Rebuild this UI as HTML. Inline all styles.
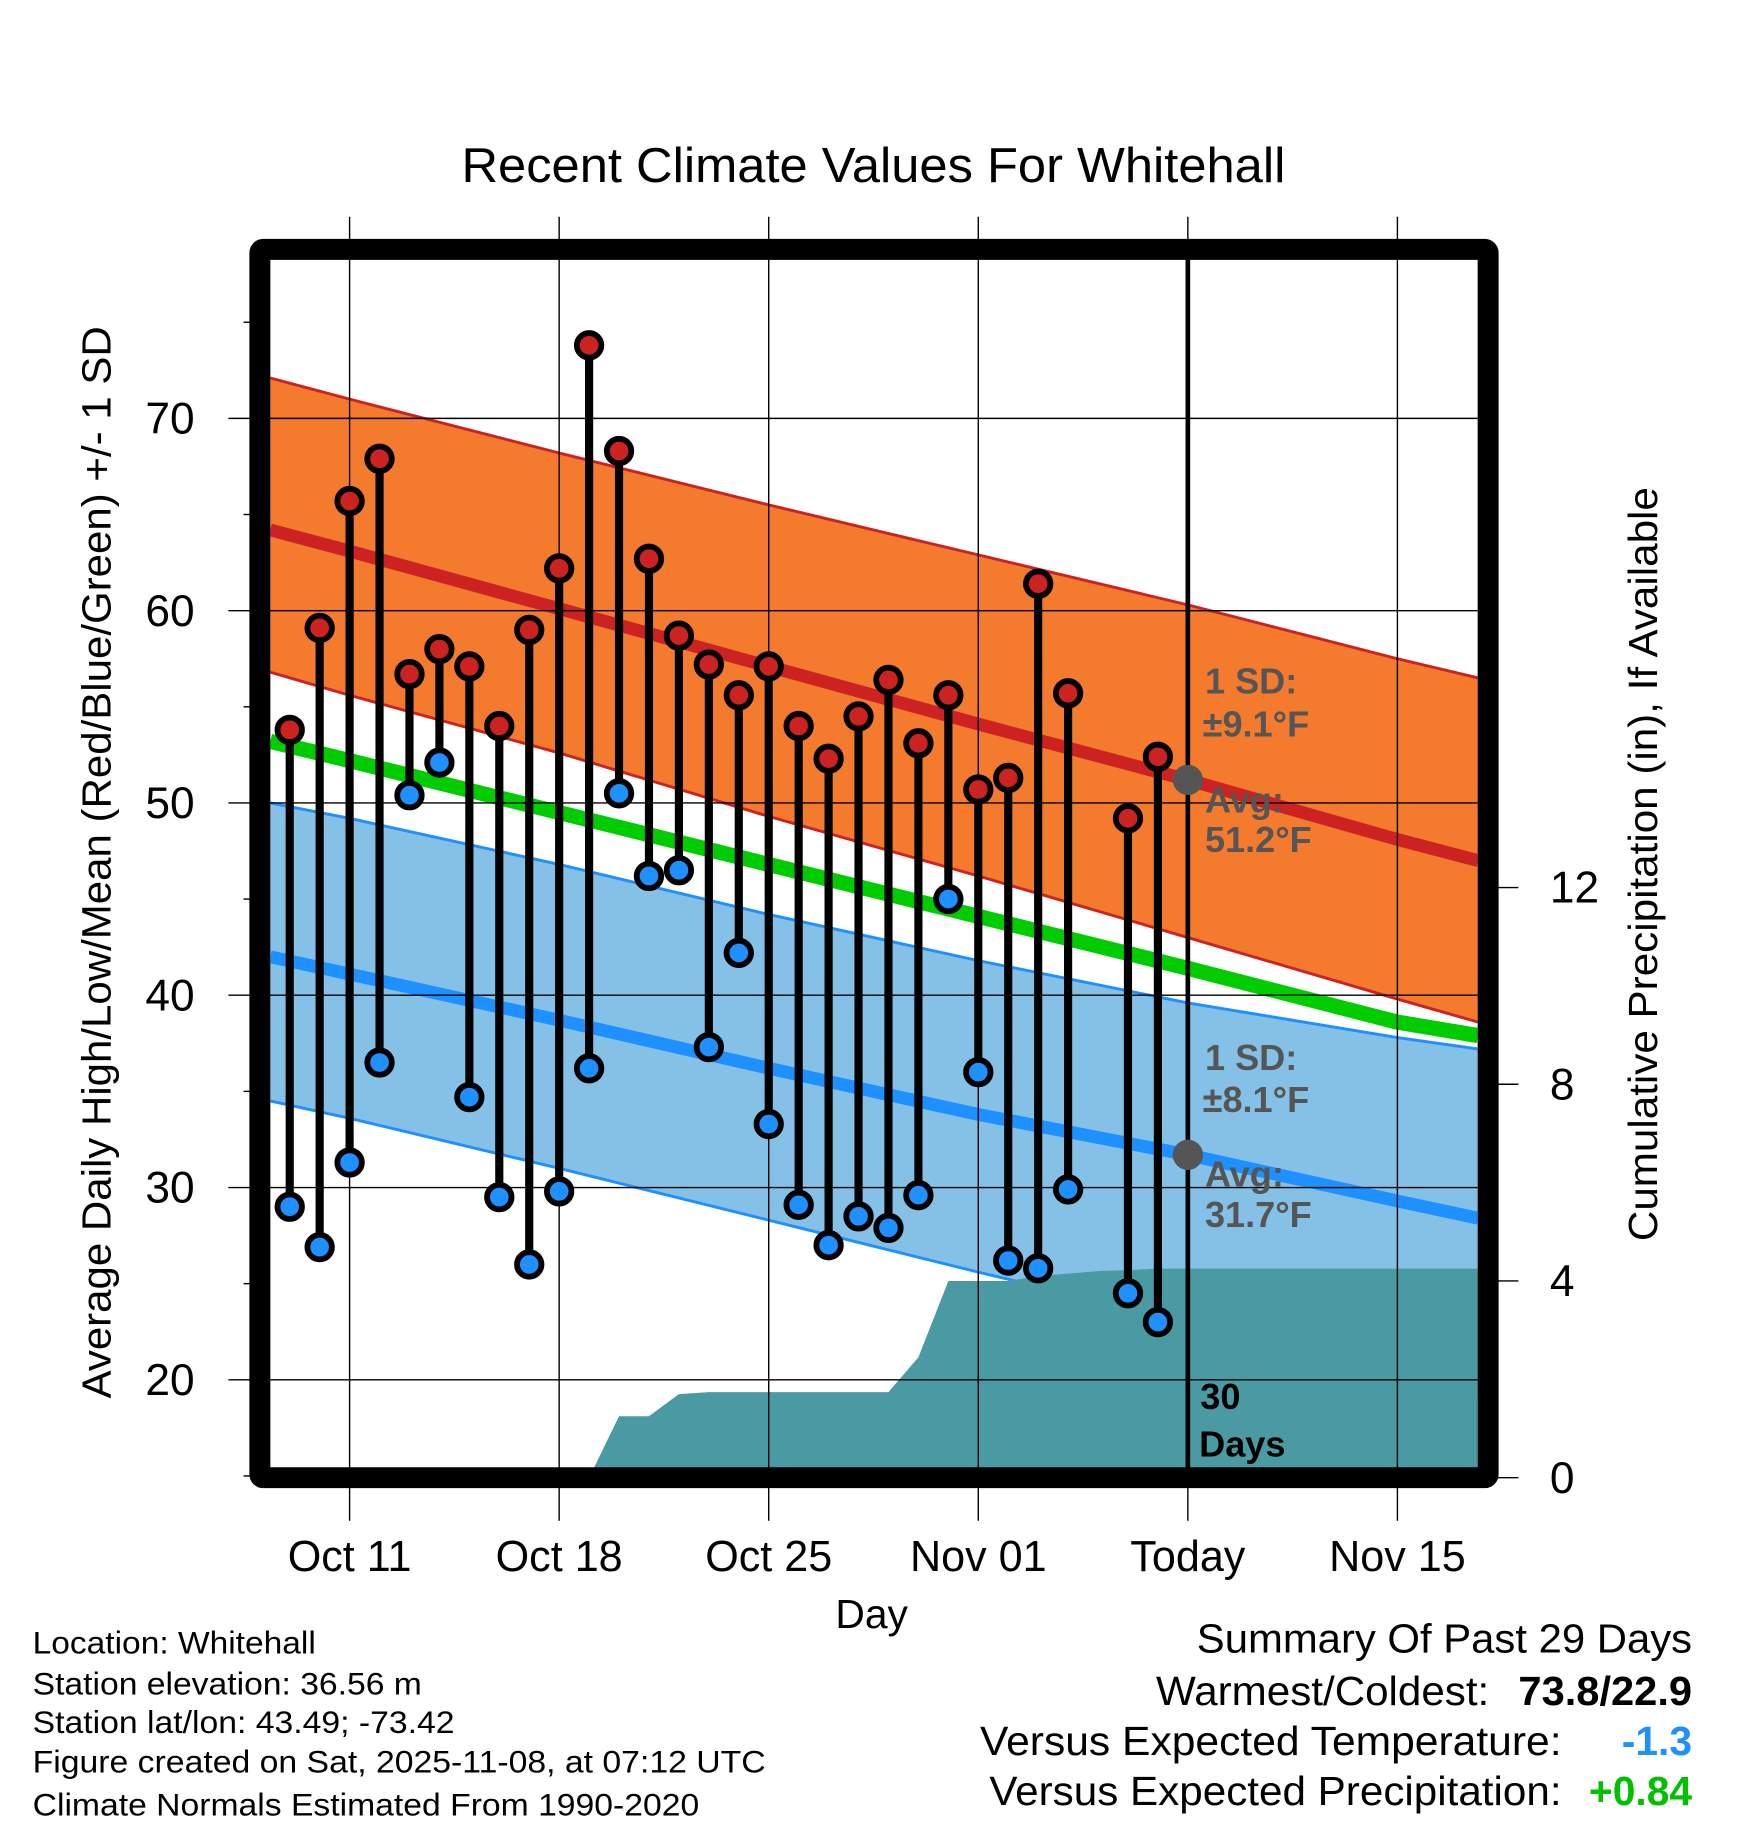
<!DOCTYPE html>
<html><head><meta charset="utf-8"><style>
html,body{margin:0;padding:0;background:#fff}
svg{display:block}
text{font-family:"Liberation Sans",Arial,sans-serif}
</style></head><body>
<svg id="chart" width="1748" height="1828" viewBox="0 0 1500 1568.6" preserveAspectRatio="none" xmlns="http://www.w3.org/2000/svg">
<defs><clipPath id="plotclip"><rect x="232" y="223" width="1036" height="1037"/></clipPath></defs>
<g id="plot" clip-path="url(#plotclip)"></g>
<g id="axes"></g>
<g id="marks"></g>
<text x="396" y="156" font-size="42" textLength="707" lengthAdjust="spacingAndGlyphs">Recent Climate Values For Whitehall</text>
<text x="748" y="1397" font-size="35" text-anchor="middle">Day</text>
<text transform="translate(95,1200) rotate(-90)" font-size="35" textLength="920" lengthAdjust="spacingAndGlyphs">Average Daily High/Low/Mean (Red/Blue/Green) +/- 1 SD</text>
<text transform="translate(1422,1065) rotate(-90)" font-size="35" textLength="647" lengthAdjust="spacingAndGlyphs">Cumulative Precipitation (in), If Available</text>
<g font-size="31" font-weight="bold" fill="#555">
<text x="1034" y="595">1 SD:</text><text x="1032" y="632">±9.1°F</text>
<text x="1034" y="697">Avg:</text><text x="1034" y="731">51.2°F</text></g>
<g font-size="31" font-weight="bold" fill="#555">
<text x="1034" y="918">1 SD:</text><text x="1032" y="954">±8.1°F</text>
<text x="1034" y="1018">Avg:</text><text x="1034" y="1053">31.7°F</text></g>
<g font-size="31" font-weight="bold" fill="#000">
<text x="1030" y="1209">30</text><text x="1029" y="1250">Days</text></g>
<g font-size="27">
<text x="28" y="1419" textLength="243" lengthAdjust="spacingAndGlyphs">Location: Whitehall</text>
<text x="28" y="1454" textLength="334" lengthAdjust="spacingAndGlyphs">Station elevation: 36.56 m</text>
<text x="28" y="1487" textLength="362" lengthAdjust="spacingAndGlyphs">Station lat/lon: 43.49; -73.42</text>
<text x="28" y="1521" textLength="629" lengthAdjust="spacingAndGlyphs">Figure created on Sat, 2025-11-08, at 07:12 UTC</text>
<text x="28" y="1558" textLength="572" lengthAdjust="spacingAndGlyphs">Climate Normals Estimated From 1990-2020</text></g>
<g font-size="35">
<text x="1027" y="1418" textLength="425" lengthAdjust="spacingAndGlyphs">Summary Of Past 29 Days</text>
<text x="992" y="1463" textLength="286" lengthAdjust="spacingAndGlyphs">Warmest/Coldest:</text>
<text x="1303" y="1463" font-weight="bold" textLength="149" lengthAdjust="spacingAndGlyphs">73.8/22.9</text>
<text x="841" y="1506" textLength="499" lengthAdjust="spacingAndGlyphs">Versus Expected Temperature:</text>
<text x="1452" y="1506" text-anchor="end" font-weight="bold" fill="#1e90ff">-1.3</text>
<text x="849" y="1549" textLength="491" lengthAdjust="spacingAndGlyphs">Versus Expected Precipitation:</text>
<text x="1452" y="1549" text-anchor="end" font-weight="bold" fill="#00c000">+0.84</text></g>
</svg>
<script>
// ---- data ----
const dayLabels = ["Oct 09","Oct 10","Oct 11","Oct 12","Oct 13","Oct 14","Oct 15","Oct 16","Oct 17","Oct 18","Oct 19","Oct 20","Oct 21","Oct 22","Oct 23","Oct 24","Oct 25","Oct 26","Oct 27","Oct 28","Oct 29","Oct 30","Oct 31","Nov 01","Nov 02","Nov 03","Nov 04","Nov 05","Nov 06","Nov 07"];
const dayIndex = [-2,-1,0,1,2,3,4,5,6,7,8,9,10,11,12,13,14,15,16,17,18,19,20,21,22,23,24,25,26,27];
const highs = [53.8,59.1,65.7,67.9,56.7,58.0,57.1,54.0,59.0,62.2,73.8,68.3,62.7,58.7,57.2,55.6,57.1,54.0,52.3,54.5,56.4,53.1,55.6,50.7,51.3,61.4,55.7,null,49.2,52.4];
const lows  = [29.0,26.9,31.3,36.5,50.4,52.1,34.7,29.5,26.0,29.8,36.2,50.5,46.2,46.5,37.3,42.2,33.3,29.1,27.0,28.5,27.9,29.6,45.0,36.0,26.2,25.8,29.9,null,24.5,23.0];
// normals at reference days (day offset from Oct 11)
const normDays = [-2.65,0,7,14,21,28,35,37.7];
const normHigh = [64.2,63.1,60.1,57.1,54.1,51.2,48.1,47.0];
const normHighUp = [72.1,71.0,68.2,65.5,62.9,60.3,57.5,56.5];
const normHighLo = [56.8,55.6,52.6,49.3,46.2,43.0,39.8,38.6];
const normMean = [53.2,52.2,49.5,46.8,44.1,41.4,38.6,37.9];
const normLow = [42.0,41.1,38.7,36.2,33.8,31.7,29.3,28.4];
const normLowUp = [50.0,49.2,46.8,44.2,41.8,39.6,37.8,37.2];
const normLowLo = [34.5,33.6,31.0,28.3,25.6,23.0,20.3,19.3];
// cumulative precipitation (in)
const precipDays = [8,9,10,11,12,18,19,20,21,22,23,24,25,26,27,28,37.7];
const precip = [0,1.25,1.25,1.7,1.74,1.74,2.45,4.0,4.0,4.0,4.1,4.15,4.2,4.22,4.25,4.25,4.25];
const xTickDays = [0,7,14,21,28,35];
const xTickLabels = ["Oct 11","Oct 18","Oct 25","Nov 01","Today","Nov 15"];
const yTicks = [20,30,40,50,60,70];
const yMinor = [15,25,35,45,55,65,75];
const pTicks = [0,4,8,12];
const todayDay = 28;
const highAvgToday = 51.2, lowAvgToday = 31.7;

// ---- scales ----
const X = d => 300 + d * 25.69;
const Y = v => 359 + (70 - v) * 16.5;
const P = p => 1268 - p * 42.2;
const NS = "http://www.w3.org/2000/svg";
function mk(tag, parent, attrs){const e=document.createElementNS(NS,tag);for(const k in attrs)e.setAttribute(k,attrs[k]);parent.appendChild(e);return e;}
const plot=document.getElementById('plot'), axes=document.getElementById('axes'), marks=document.getElementById('marks');

function band(up, lo, fill, edge, name){
  let pts = normDays.map((d,i)=>X(d)+","+Y(up[i]));
  pts = pts.concat(normDays.map((d,i)=>X(d)+","+Y(lo[i])).reverse());
  const p = mk('polygon', plot, {points:pts.join(" "), fill:fill});
  
  
  [up,lo].forEach(arr=>{
    const l = mk('polyline', plot, {points:normDays.map((d,i)=>X(d)+","+Y(arr[i])).join(" "), fill:"none", stroke:edge, "stroke-width":2.5});
    
    
  });
}
function nline(arr, color, w, name){
  const l = mk('polyline', plot, {points:normDays.map((d,i)=>X(d)+","+Y(arr[i])).join(" "), fill:"none", stroke:color, "stroke-width":w});
  
  
}
band(normLowUp, normLowLo, "#85c1e6", "#1e90ff", "low-sd-band");
band(normHighUp, normHighLo, "#f47a2e", "#cc2222", "high-sd-band");
nline(normMean, "#00cc00", 13, "mean-normal-line");
nline(normLow, "#1e90ff", 11, "low-normal-line");
nline(normHigh, "#cc2222", 11, "high-normal-line");

// precipitation area
{
  let pts = precipDays.map((d,i)=>X(d)+","+P(precip[i]));
  pts.push(X(precipDays[precipDays.length-1])+","+P(0)); pts.push(X(precipDays[0])+","+P(0));
  const a = mk('polygon', plot, {points:pts.join(" "), fill:"#4a9aa3"});
  
  
}
// gridlines
xTickDays.forEach((d,i)=>{
  const g = mk('line', axes, {x1:X(d), x2:X(d), y1:186, y2:1305, stroke:"#000", "stroke-width":1.2});
  
  
  const t = mk('text', axes, {x:X(d), y:1348, "font-size":37, "text-anchor":"middle"});
  t.textContent = xTickLabels[i];
  
  
});
yTicks.forEach(v=>{
  const g = mk('line', axes, {x1:196, x2:1268, y1:Y(v), y2:Y(v), stroke:"#000", "stroke-width":1.2});
  
  
  const t = mk('text', axes, {x:167, y:Y(v)+13, "font-size":38, "text-anchor":"end"});
  t.textContent = v;
  
  
});
yMinor.forEach(v=>{
  const g = mk('line', axes, {x1:209, x2:220, y1:Y(v), y2:Y(v), stroke:"#000", "stroke-width":1.2});
  
  
});
pTicks.forEach(p=>{
  const g = mk('line', axes, {x1:1275, x2:1303, y1:P(p), y2:P(p), stroke:"#000", "stroke-width":1.2});
  
  
  const t = mk('text', axes, {x:1330, y:P(p)+13, "font-size":38});
  t.textContent = p;
  
  
});
// today line
{
  const l = mk('line', axes, {x1:X(todayDay), x2:X(todayDay), y1:223, y2:1260, stroke:"#000", "stroke-width":4});
  
  
  [highAvgToday, lowAvgToday].forEach(v=>{
    const c = mk('circle', axes, {cx:X(todayDay), cy:Y(v), r:13, fill:"#555"});
    
    
  });
}
// frame
{
  const f = mk('rect', axes, {x:223, y:214, width:1054, height:1054, fill:"none", stroke:"#000", "stroke-width":18, rx:3});
  
  
}
// data stems and markers
dayIndex.forEach((d,i)=>{
  if (highs[i]==null) return;
  const x = X(d);
  const s = mk('line', marks, {x1:x, x2:x, y1:Y(highs[i]), y2:Y(lows[i]), stroke:"#000", "stroke-width":7});
  
  
  [[highs[i],"#cc2222","high-marker"],[lows[i],"#1e90ff","low-marker"]].forEach(([v,col,nm])=>{
    const o = mk('circle', marks, {cx:x, cy:Y(v), r:10.5, fill:col, stroke:"#000", "stroke-width":5});
    
    
  });
});
</script>
</body></html>
